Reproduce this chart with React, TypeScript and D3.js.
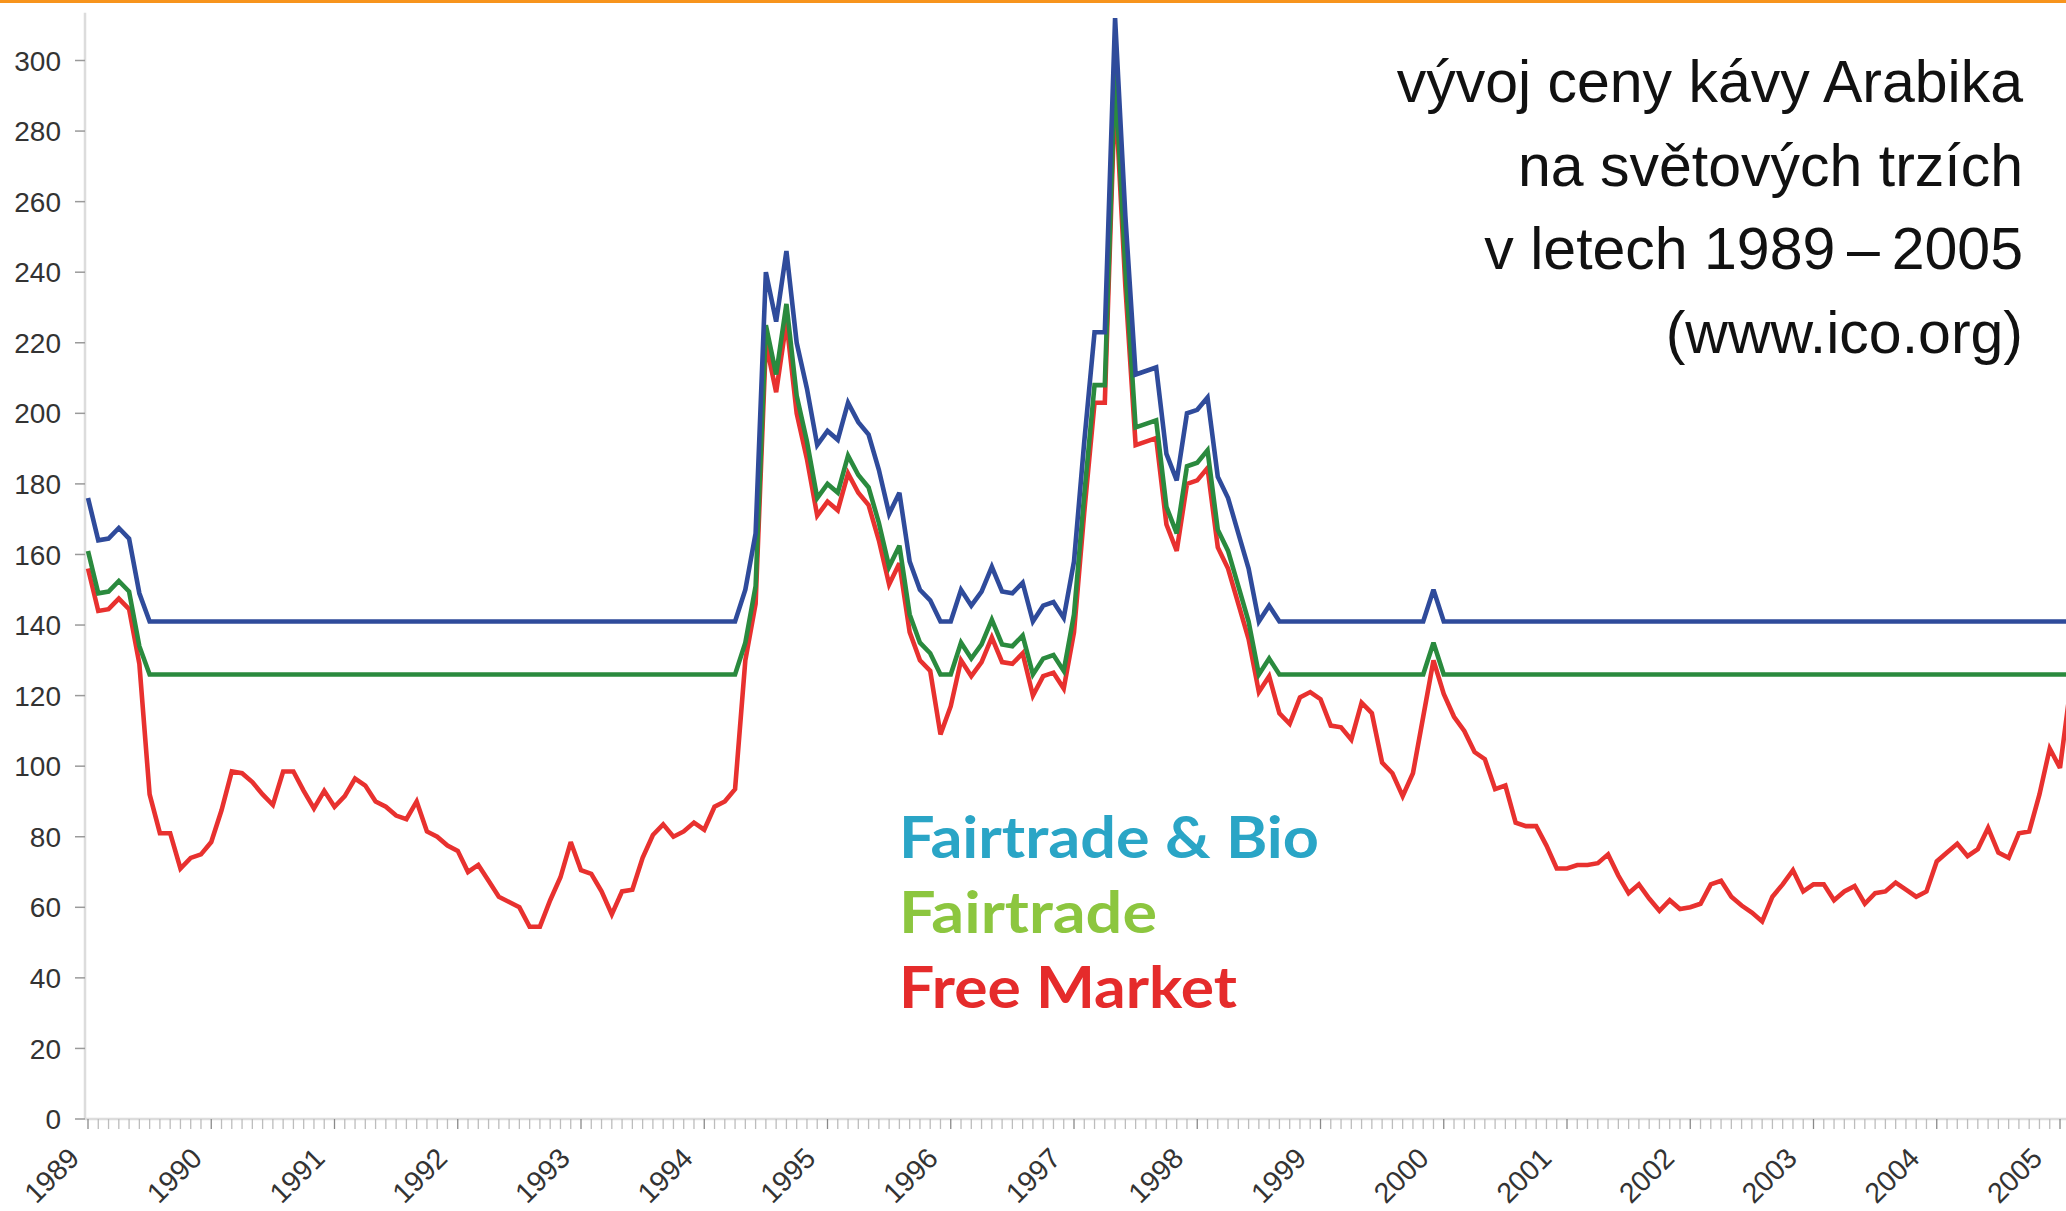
import React from "react";
import * as d3 from "d3";

// ICO Arabica prices, US cents/lb, monthly Jan 1989 .. Feb 2005
const years = [
  "1989", "1990", "1991", "1992", "1993", "1994", "1995", "1996", "1997",
  "1998", "1999", "2000", "2001", "2002", "2003", "2004", "2005",
];
const yTicks = [0, 20, 40, 60, 80, 100, 120, 140, 160, 180, 200, 220, 240, 260, 280, 300];

const freeMarket = [
  156, 144, 144.5, 147.5, 144.5, 129, 92, 81, 81, 71, 74, 75,
  78.5, 87.5, 98.5, 98, 95.5, 92, 89, 98.5, 98.5, 93, 88, 93,
  88.5, 91.5, 96.5, 94.5, 90, 88.5, 86, 85, 90, 81.5, 80, 77.5,
  76, 70, 72, 67.5, 63, 61.5, 60, 54.5, 54.5, 62, 68.5, 78.5,
  70.5, 69.5, 64.5, 58, 64.5, 65, 74, 80.5, 83.5, 80, 81.5, 84,
  82, 88.5, 90, 93.5, 130, 146, 220, 206, 226, 200, 187, 171,
  175, 172.5, 183, 177.5, 174, 164, 151.5, 157.5, 138, 130, 127, 109,
  117, 130, 125.5, 129.5, 136.5, 129.5, 129, 132, 120, 125.5, 126.5, 122,
  138, 172, 203, 203, 292, 236, 191, 192, 193, 168.5, 161, 180,
  181, 184.5, 162, 156, 146, 136, 121, 125.5, 115, 112, 119.5, 121,
  119, 111.5, 111, 107.5, 118, 115, 101, 98, 91.5, 98, 114, 130,
  120.5, 114, 110, 104, 102, 93.5, 94.5, 84, 83, 83, 77.5, 71,
  71, 72, 72, 72.5, 75, 69, 64, 66.5, 62.5, 59, 62, 59.5,
  60, 61, 66.5, 67.5, 63, 60.5, 58.5, 56, 63, 66.5, 70.5, 64.5,
  66.5, 66.5, 62, 64.5, 66, 61, 64, 64.5, 67, 65, 63, 64.5,
  73, 75.5, 78, 74.5, 76.5, 82.5, 75.5, 74, 81, 81.5, 92, 105,
  99.5, 122,
];

const fairtrade = [
  161, 149, 149.5, 152.5, 149.5, 134, 126, 126, 126, 126, 126, 126,
  126, 126, 126, 126, 126, 126, 126, 126, 126, 126, 126, 126,
  126, 126, 126, 126, 126, 126, 126, 126, 126, 126, 126, 126,
  126, 126, 126, 126, 126, 126, 126, 126, 126, 126, 126, 126,
  126, 126, 126, 126, 126, 126, 126, 126, 126, 126, 126, 126,
  126, 126, 126, 126, 135, 151, 225, 211, 231, 205, 192, 176,
  180, 177.5, 188, 182.5, 179, 169, 156.5, 162.5, 143, 135, 132, 126,
  126, 135, 130.5, 134.5, 141.5, 134.5, 134, 137, 126, 130.5, 131.5, 127,
  143, 177, 208, 208, 297, 241, 196, 197, 198, 173.5, 166, 185,
  186, 189.5, 167, 161, 151, 141, 126, 130.5, 126, 126, 126, 126,
  126, 126, 126, 126, 126, 126, 126, 126, 126, 126, 126, 135,
  126, 126, 126, 126, 126, 126, 126, 126, 126, 126, 126, 126,
  126, 126, 126, 126, 126, 126, 126, 126, 126, 126, 126, 126,
  126, 126, 126, 126, 126, 126, 126, 126, 126, 126, 126, 126,
  126, 126, 126, 126, 126, 126, 126, 126, 126, 126, 126, 126,
  126, 126, 126, 126, 126, 126, 126, 126, 126, 126, 126, 126,
  126, 126,
];

const fairtradeBio = [
  176, 164, 164.5, 167.5, 164.5, 149, 141, 141, 141, 141, 141, 141,
  141, 141, 141, 141, 141, 141, 141, 141, 141, 141, 141, 141,
  141, 141, 141, 141, 141, 141, 141, 141, 141, 141, 141, 141,
  141, 141, 141, 141, 141, 141, 141, 141, 141, 141, 141, 141,
  141, 141, 141, 141, 141, 141, 141, 141, 141, 141, 141, 141,
  141, 141, 141, 141, 150, 166, 240, 226, 246, 220, 207, 191,
  195, 192.5, 203, 197.5, 194, 184, 171.5, 177.5, 158, 150, 147, 141,
  141, 150, 145.5, 149.5, 156.5, 149.5, 149, 152, 141, 145.5, 146.5, 142,
  158, 192, 223, 223, 312, 256, 211, 212, 213, 188.5, 181, 200,
  201, 204.5, 182, 176, 166, 156, 141, 145.5, 141, 141, 141, 141,
  141, 141, 141, 141, 141, 141, 141, 141, 141, 141, 141, 150,
  141, 141, 141, 141, 141, 141, 141, 141, 141, 141, 141, 141,
  141, 141, 141, 141, 141, 141, 141, 141, 141, 141, 141, 141,
  141, 141, 141, 141, 141, 141, 141, 141, 141, 141, 141, 141,
  141, 141, 141, 141, 141, 141, 141, 141, 141, 141, 141, 141,
  141, 141, 141, 141, 141, 141, 141, 141, 141, 141, 141, 141,
  141, 141,
];

const titleLines = [
  "vývoj ceny kávy Arabika",
  "na světových trzích",
  "v letech 1989\u2009–\u20092005",
  "(www.ico.org)",
];
const legendLabels = ["Fairtrade & Bio", "Fairtrade", "Free Market"];

const width = 2066;
const height = 1211;

const x = d3.scaleLinear().domain([0, 192]).range([88, 2060]);
const y = d3.scaleLinear().domain([0, 300]).range([1119, 60.5]);
// year labels sit slightly off the monthly grid in the original
const labelX = d3.scaleLinear().domain([0, years.length - 1]).range([81, 2044]);

const line = d3
  .line<number>()
  .x((_, i) => x(i))
  .y((d) => y(d));

const series = [
  { data: freeMarket, color: "#e8312f" },
  { data: fairtrade, color: "#2a8a3e" },
  { data: fairtradeBio, color: "#2f4b9b" },
];

const legendColors = ["#2aa5c6", "#8cc63f", "#e52b2b"];
const legendWidths = [420, 258, 338];

export default function App() {
  const axisX = 85;
  const months = d3.range(0, freeMarket.length);
  return (
    <svg
      width={width}
      height={height}
      viewBox={`0 0 ${width} ${height}`}
      style={{ position: "absolute", left: 0, top: 0, background: "#fff" }}
    >
      <rect width={width} height={height} fill="#fff" />
      <rect x={0} y={0} width={width} height={3} fill="#f7941d" />

      {/* y axis */}
      <line x1={axisX} x2={axisX} y1={y(0)} y2={y(313.5)} stroke="#dcdcdc" strokeWidth={2.5} />
      {yTicks.map((t) => (
        <g key={t} transform={`translate(0,${y(t)})`}>
          <line x1={75} x2={axisX} stroke="#9a9a9a" strokeWidth={1.5} />
          <text
            x={61}
            dy="0.36em"
            textAnchor="end"
            fontFamily="'Liberation Sans', Arial, sans-serif"
            fontSize={28}
            fill="#333"
          >
            {t}
          </text>
        </g>
      ))}

      {/* x axis */}
      <line x1={axisX} x2={width} y1={y(0)} y2={y(0)} stroke="#dcdcdc" strokeWidth={2.5} />
      {months.map((m) => (
        <line
          key={m}
          x1={x(m)}
          x2={x(m)}
          y1={y(0)}
          y2={y(0) + 10}
          stroke={m % 12 === 0 ? "#8a8a8a" : "#bdbdbd"}
          strokeWidth={1.3}
        />
      ))}
      {years.map((yr, k) => (
        <text
          key={yr}
          transform={`translate(${labelX(k)},1160) rotate(-45)`}
          textAnchor="end"
          fontFamily="'Liberation Sans', Arial, sans-serif"
          fontSize={28.5}
          fill="#333"
        >
          {yr}
        </text>
      ))}

      {/* series */}
      {series.map((s, i) => (
        <path
          key={i}
          d={line(s.data) ?? ""}
          fill="none"
          stroke={s.color}
          strokeWidth={4.6}
          strokeLinejoin="miter"
          strokeMiterlimit={3}
        />
      ))}

      {/* title */}
      {titleLines.map((t, i) => (
        <text
          key={t}
          x={2023}
          y={102 + i * 83.7}
          textAnchor="end"
          fontFamily="'Liberation Sans', Arial, sans-serif"
          fontSize={59}
          fill="#111"
        >
          {t}
        </text>
      ))}

      {/* legend */}
      {legendLabels.map((t, i) => (
        <text
          key={t}
          x={899}
          y={858 + i * 75}
          fontFamily="Lato, 'Open Sans', sans-serif"
          fontWeight={700}
          fontSize={58}
          fill={legendColors[i]}
          textLength={legendWidths[i]}
          lengthAdjust="spacingAndGlyphs"
        >
          {t}
        </text>
      ))}
    </svg>
  );
}
